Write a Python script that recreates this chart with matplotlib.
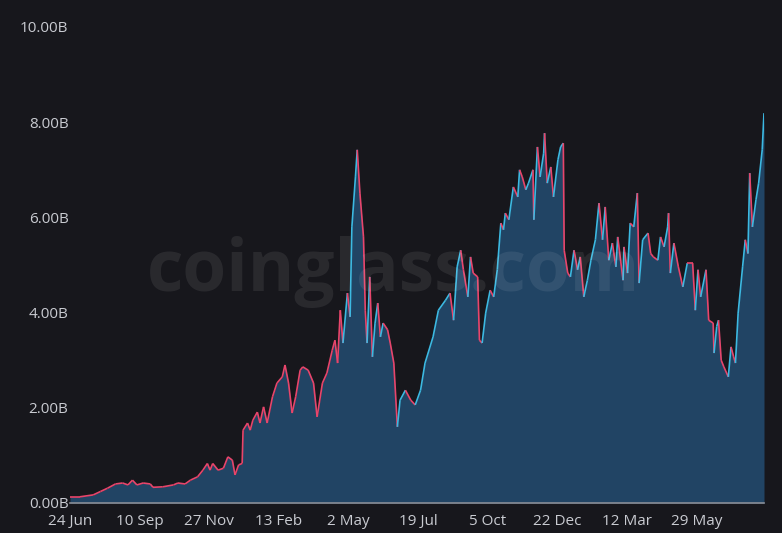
import matplotlib
matplotlib.use("Agg")
import matplotlib.pyplot as plt
from matplotlib.collections import LineCollection
import numpy as np

# days since 24 Jun, open interest in billions
days = [0, 11, 26, 34, 42, 51, 59, 65, 70, 75, 82, 90, 93, 104, 116, 121, 129, 135,
        143, 149, 154, 157, 160, 166, 172, 177, 182, 185, 189, 193, 194, 199, 202, 205,
        210, 213, 217, 221, 227, 232, 238, 241, 245, 249, 253, 258, 261, 267, 273, 277,
        283, 288, 294, 297, 300, 303, 306, 311, 314, 316, 320, 322, 325, 329, 331, 333,
        336, 339, 342, 345, 348, 351, 356, 359, 363, 367, 370, 376, 382, 387, 393, 398,
        407, 413, 421, 426, 430, 434, 438, 441, 446, 449, 452, 457, 459, 462, 466, 471,
        475, 479, 483, 486, 488, 492, 497, 502, 504, 507, 511, 514, 519, 520, 524, 527,
        531, 532, 535, 539, 542, 547, 550, 553, 554, 558, 561, 565, 569, 572, 576, 580,
        584, 589, 593, 597, 600, 604, 608, 612, 614, 620, 621, 625, 628, 632, 636, 638,
        642, 648, 651, 654, 659, 662, 666, 670, 671, 673, 677, 682, 687, 692, 698, 701,
        704, 707, 713, 716, 721, 722, 725, 727, 730, 733, 738, 741, 744, 746, 749, 754,
        757, 760, 762, 765, 769, 772, 776, 778]
oi = [0.13, 0.13, 0.17, 0.24, 0.31, 0.40, 0.42, 0.38, 0.48, 0.38, 0.42, 0.40, 0.33,
      0.34, 0.38, 0.42, 0.40, 0.48, 0.55, 0.69, 0.83, 0.69, 0.83, 0.69, 0.73, 0.97,
      0.90, 0.59, 0.80, 0.83, 1.53, 1.68, 1.53, 1.74, 1.91, 1.68, 2.02, 1.68, 2.23,
      2.52, 2.65, 2.90, 2.52, 1.89, 2.23, 2.79, 2.86, 2.79, 2.52, 1.81, 2.52, 2.73,
      3.21, 3.42, 2.94, 4.05, 3.36, 4.41, 3.91, 5.80, 6.85, 7.42, 6.51, 5.59, 4.05,
      3.36, 4.75, 3.07, 3.78, 4.20, 3.49, 3.78, 3.64, 3.36, 2.94, 1.60, 2.16, 2.37,
      2.16, 2.06, 2.37, 2.94, 3.49, 4.05, 4.26, 4.41, 3.84, 4.96, 5.31, 4.90, 4.33,
      5.17, 4.83, 4.75, 3.42, 3.36, 3.99, 4.47, 4.33, 4.90, 5.88, 5.74, 6.09, 5.95,
      6.64, 6.43, 7.00, 6.85, 6.58, 6.72, 7.00, 5.95, 7.48, 6.85, 7.35, 7.77, 6.72,
      7.06, 6.43, 7.21, 7.48, 7.56, 5.31, 4.83, 4.75, 5.31, 4.90, 5.17, 4.33, 4.68,
      5.10, 5.53, 6.30, 5.53, 6.22, 5.10, 5.46, 4.96, 5.59, 4.68, 5.38, 4.83, 5.88,
      5.80, 6.51, 4.62, 5.53, 5.67, 5.24, 5.17, 5.10, 5.59, 5.38, 5.80, 6.09, 4.83,
      5.46, 4.96, 4.54, 5.04, 5.04, 4.05, 4.90, 4.33, 4.90, 3.84, 3.78, 3.15, 3.71,
      3.84, 3.00, 2.86, 2.65, 3.28, 3.07, 2.94, 3.99, 4.96, 5.53, 5.24, 6.93, 5.80,
      6.37, 6.72, 7.42, 8.19]

tick_labels = ["24 Jun", "10 Sep", "27 Nov", "13 Feb", "2 May", "19 Jul",
               "5 Oct", "22 Dec", "12 Mar", "29 May"]
tick_step = 78
y_ticks = [0, 2, 4, 6, 8, 10]

bg = "#17171c"
fill_col = "#214464"
pink = "#e8456b"
cyan = "#3cb9e2"
txt = "#c9cbd1"

x = np.array(days, dtype=float)
y = np.array(oi)

fig = plt.figure(figsize=(7.82, 5.33), dpi=100, facecolor=bg)
ax = fig.add_axes([70 / 782, 30 / 533, 694 / 782, 476 / 533])
ax.set_facecolor(bg)

ax.fill_between(x, 0, y, color=fill_col, lw=0, zorder=2)

segs = np.stack([np.column_stack([x[:-1], y[:-1]]), np.column_stack([x[1:], y[1:]])], axis=1)
cols = [cyan if (x[i] > 300 and y[i + 1] > y[i]) else pink for i in range(len(x) - 1)]
ax.add_collection(LineCollection(segs, colors=cols, linewidths=1.2, zorder=3))

ax.set_xlim(0, days[-1])
ax.set_ylim(0, 10)
ax.set_xticks([i * tick_step for i in range(len(tick_labels))])
ax.set_xticklabels(tick_labels)
ax.set_yticks(y_ticks)
ax.set_yticklabels([f"{v:.2f}B" for v in y_ticks])
ax.tick_params(length=0, colors=txt, labelsize=11)
for lbl in ax.get_xticklabels() + ax.get_yticklabels():
    lbl.set_fontfamily("Open Sans")
ax.tick_params(axis="y", pad=1)
ax.tick_params(axis="x", pad=8)

for side in ["top", "right", "left"]:
    ax.spines[side].set_visible(False)
ax.spines["bottom"].set_color("#8a8e96")
ax.spines["bottom"].set_linewidth(1.2)
ax.spines["bottom"].set_zorder(4)

fig.text(393 / 782, 1 - 272 / 533, "coinglass.com", ha="center", va="center",
         fontsize=51, fontweight="bold", family="Open Sans", color="white",
         alpha=0.08, zorder=5)

fig.savefig("out.png", dpi=100, facecolor=bg)
